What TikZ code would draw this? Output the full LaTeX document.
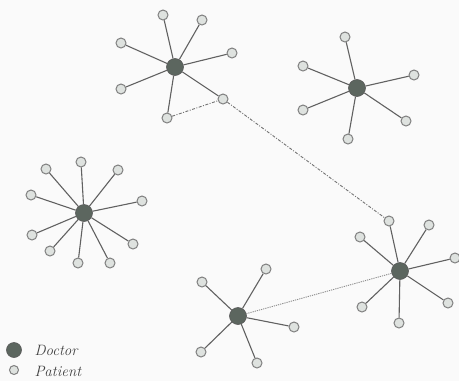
\documentclass[tikz,border=0pt]{standalone}
\definecolor{docfill}{RGB}{92,102,95}
\definecolor{patfill}{RGB}{222,226,223}
\begin{document}
\begin{tikzpicture}[x=1pt, y=-1pt,
  doctor/.style={circle, draw=black!65, fill=docfill, line width=0.6pt, minimum size=17pt, inner sep=0pt},
  patient/.style={circle, draw=black!50, fill=patfill, line width=1pt, minimum size=10pt, inner sep=0pt},
  spoke/.style={draw=black!62, line width=1.1pt},
  link/.style={draw=black!55, line width=0.9pt, dash pattern=on 3pt off 1.5pt on 1pt off 1.5pt},
  legendtext/.style={anchor=west, font=\fontsize{15}{17}\selectfont\itshape, text=black!75}]
\useasboundingbox[fill=black!2] (0,0) rectangle (459,381);
% Define doctors
\node[doctor] (d1) at (175,67) {};
\node[doctor] (d2) at (357,88) {};
\node[doctor] (d3) at (84,213) {};
\node[doctor] (d4) at (400,271) {};
\node[doctor] (d5) at (238,316) {};
% Define patients
\foreach \x/\y [count=\i] in {163/15, 202/20, 121/43, 232/53, 121/89, 223/99, 167/118}
  {\node[patient] (p1-\i) at (\x,\y) {}; \draw[spoke] (d1) -- (p1-\i);}
\foreach \x/\y [count=\i] in {345/37, 303/66, 414/75, 303/110, 406/121, 348/139}
  {\node[patient] (p2-\i) at (\x,\y) {}; \draw[spoke] (d2) -- (p2-\i);}
\foreach \x/\y [count=\i] in {81/162, 46/169, 118/170, 31/195, 142/201, 32/235, 133/244, 50/251, 78/263, 110/263}
  {\node[patient] (p3-\i) at (\x,\y) {}; \draw[spoke] (d3) -- (p3-\i);}
\foreach \x/\y [count=\i] in {389/221, 429/225, 360/237, 455/258, 362/307, 448/303, 399/323}
  {\node[patient] (p4-\i) at (\x,\y) {}; \draw[spoke] (d4) -- (p4-\i);}
\foreach \x/\y [count=\i] in {202/282, 266/269, 294/327, 201/352, 257/363}
  {\node[patient] (p5-\i) at (\x,\y) {}; \draw[spoke] (d5) -- (p5-\i);}
% Define links
\draw[link] (p1-7) -- (p1-6) -- (p4-1);
\draw[link, dash pattern=on 1.2pt off 1pt, draw=black!45] (d4) -- (d5);
% Legend
\node[doctor, minimum size=15pt] (ld) at (14,350) {};
\node[patient, minimum size=9pt] (lp) at (14,370) {};
\node[legendtext] (tdoc) at (31,350) {Doctor};
\node[legendtext] (tpat) at (31,371) {Patient};
\end{tikzpicture}
\end{document}
